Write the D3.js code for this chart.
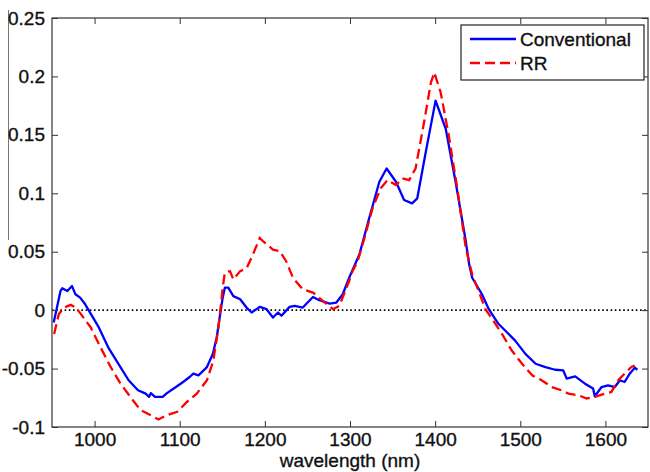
<!DOCTYPE html>
<html>
<head>
<meta charset="utf-8">
<script src="https://cdn.jsdelivr.net/npm/d3@7"></script>
<style>
  html, body { margin: 0; padding: 0; background: #fff; }
  svg text { font-family: "Liberation Sans", Arial, sans-serif; fill: #111; stroke: #111; stroke-width: 0.35px; }
</style>
</head>
<body>
<svg id="chart" width="650" height="472"></svg>
<script>
// ---- data ----
const convWl = [952, 960, 962, 968, 973.5, 977.5, 983, 989, 993, 1005, 1016, 1028, 1040, 1051, 1060, 1064, 1066, 1071, 1080, 1085, 1093, 1104, 1112, 1116, 1122, 1132, 1139, 1143.5, 1147.5, 1150.5, 1153, 1157, 1163, 1171, 1178.5, 1184.5, 1194, 1202, 1209.5, 1215.5, 1219.5, 1229, 1235, 1244.5, 1256.5, 1264, 1276, 1284, 1291.5, 1299, 1311, 1322.5, 1334.5, 1343, 1354, 1363.5, 1373, 1379, 1389, 1400.5, 1412.5, 1424, 1436, 1440, 1443.5, 1455, 1463, 1474.5, 1482.5, 1494, 1506, 1518, 1529.5, 1541, 1550.5, 1554.5, 1564.5, 1576, 1585.5, 1587.5, 1595.5, 1603, 1611, 1617, 1622.5, 1628.5, 1634.5, 1637.5];
const convVal = [-0.0105, 0.0164, 0.0187, 0.0164, 0.0206, 0.0136, 0.0107, 0.005, 0.0, -0.0148, -0.0318, -0.0459, -0.06, -0.0686, -0.0714, -0.0742, -0.071, -0.0742, -0.0742, -0.071, -0.067, -0.0615, -0.057, -0.0544, -0.0558, -0.0487, -0.0374, -0.0232, -0.0034, 0.0107, 0.0192, 0.0192, 0.012, 0.0093, 0.0022, -0.002, 0.0028, 0.0008, -0.0063, -0.002, -0.0048, 0.0028, 0.0037, 0.0022, 0.0113, 0.0085, 0.0056, 0.0065, 0.0136, 0.0277, 0.0476, 0.0787, 0.1099, 0.1212, 0.1099, 0.0943, 0.0914, 0.0957, 0.1353, 0.1793, 0.155, 0.1099, 0.0589, 0.039, 0.0277, 0.0136, 0.0008, -0.0119, -0.0176, -0.0261, -0.0374, -0.0459, -0.0487, -0.051, -0.0516, -0.0586, -0.0567, -0.0629, -0.0671, -0.0737, -0.0658, -0.0643, -0.0658, -0.06, -0.0615, -0.0544, -0.0493, -0.051];

const rrWl = [952.5, 958, 964, 972, 978, 984, 995.5, 1007, 1019, 1030.5, 1042, 1054, 1065.5, 1075, 1085, 1097, 1108.5, 1120, 1132, 1139.5, 1145.5, 1150.5, 1153, 1159, 1163, 1171, 1178.5, 1186, 1194, 1198, 1209.5, 1217.5, 1225, 1233, 1244.5, 1256.5, 1268, 1280, 1287.5, 1299, 1303, 1309, 1317, 1326.5, 1336, 1344, 1354, 1361.5, 1369.5, 1377, 1387, 1395, 1399, 1406.5, 1416, 1426, 1436, 1443.5, 1451, 1459, 1467, 1478.5, 1490, 1502, 1514, 1525, 1537, 1548.5, 1556.5, 1568, 1578, 1587.5, 1599.5, 1607, 1615, 1622.5, 1630.5, 1634.5];
const rrVal = [-0.0204, -0.0034, 0.0022, 0.0045, 0.0022, -0.0034, -0.0148, -0.0318, -0.0488, -0.0629, -0.0742, -0.0856, -0.0898, -0.0935, -0.0898, -0.087, -0.0785, -0.0714, -0.06, -0.0431, -0.0148, 0.0192, 0.032, 0.0334, 0.0263, 0.0334, 0.0357, 0.0476, 0.0617, 0.0589, 0.0518, 0.0504, 0.0419, 0.0277, 0.0178, 0.015, 0.0079, 0.0008, 0.0037, 0.0249, 0.0334, 0.0419, 0.0617, 0.0872, 0.1042, 0.1113, 0.107, 0.1127, 0.1113, 0.1212, 0.1608, 0.1948, 0.2033, 0.1863, 0.1495, 0.1042, 0.0532, 0.0306, 0.0164, 0.0008, -0.0076, -0.0204, -0.0346, -0.0459, -0.0558, -0.06, -0.0658, -0.0686, -0.0714, -0.0728, -0.0756, -0.0742, -0.0714, -0.07, -0.06, -0.0544, -0.0487, -0.0473];

const xTicks = [1000, 1100, 1200, 1300, 1400, 1500, 1600];
const yTicks = [-0.1, -0.05, 0, 0.05, 0.1, 0.15, 0.2, 0.25];
const yTickLabels = ["-0.1", "-0.05", "0", "0.05", "0.1", "0.15", "0.2", "0.25"];
const seriesNames = ["Conventional", "RR"];
const xLabel = "wavelength (nm)";

// ---- layout ----
const L = 52, R = 648, T = 18, B = 427;
const svg = d3.select("#chart");
const x = d3.scaleLinear().domain([950, 1650]).range([L, R]);
const y = d3.scaleLinear().domain([-0.1, 0.25]).range([B, T]);
const axisColor = "#333";
const fs = 19;
const tickLen = 6;

// stray vertical line at far left
svg.append("line").attr("x1", 8.5).attr("x2", 8.5).attr("y1", 10).attr("y2", 240)
  .attr("stroke", "#777").attr("stroke-width", 1);

// zero reference line (dotted)
svg.append("line")
  .attr("x1", x(950)).attr("x2", x(1650))
  .attr("y1", y(0)).attr("y2", y(0))
  .attr("stroke", "#000").attr("stroke-width", 1.6)
  .attr("stroke-dasharray", "1.6,2.6");

// series
const line = d3.line().x(d => x(d[0])).y(d => y(d[1]));
const convData = convWl.map((w, i) => [w, convVal[i]]);
const rrData = rrWl.map((w, i) => [w, rrVal[i]]);

svg.append("path").datum(convData).attr("d", line)
  .attr("fill", "none").attr("stroke", "#0000ff").attr("stroke-width", 2.3)
  .attr("stroke-linejoin", "round");
svg.append("path").datum(rrData).attr("d", line)
  .attr("fill", "none").attr("stroke", "#ff0000").attr("stroke-width", 2.3)
  .attr("stroke-dasharray", "10,5");

// axes (MATLAB style, ticks inward on all sides)
const gBottom = svg.append("g").attr("transform", `translate(0,${B})`)
  .call(d3.axisBottom(x).tickValues(xTicks).tickSize(-tickLen).tickPadding(6).tickFormat(d3.format("d")));
const gTop = svg.append("g").attr("transform", `translate(0,${T})`)
  .call(d3.axisTop(x).tickValues(xTicks).tickSize(-tickLen).tickFormat(""));
const gLeft = svg.append("g").attr("transform", `translate(${L},0)`)
  .call(d3.axisLeft(y).tickValues(yTicks).tickSize(-tickLen).tickPadding(7)
    .tickFormat((d, i) => yTickLabels[i]));
const gRight = svg.append("g").attr("transform", `translate(${R},0)`)
  .call(d3.axisRight(y).tickValues(yTicks).tickSize(-tickLen).tickFormat(""));

[gBottom, gTop, gLeft, gRight].forEach(g => {
  g.select(".domain").remove();
  g.selectAll(".tick line").attr("stroke", axisColor).attr("stroke-width", 1);
  g.selectAll("text").attr("font-size", fs).attr("fill", "#111")
    .attr("font-family", "'Liberation Sans', Arial, sans-serif");
});
// box
svg.append("rect").attr("x", L).attr("y", T).attr("width", R - L).attr("height", B - T)
  .attr("fill", "none").attr("stroke", axisColor).attr("stroke-width", 1.2);

// x label
svg.append("text").attr("x", (L + R) / 2).attr("y", 467).attr("text-anchor", "middle")
  .attr("font-size", fs).text(xLabel);

// legend
const lg = svg.append("g");
lg.append("rect").attr("x", 461).attr("y", 25).attr("width", 183).attr("height", 55)
  .attr("fill", "#fff").attr("stroke", "#222").attr("stroke-width", 1.2);
const legendStyles = [
  { color: "#0000ff", dash: null },
  { color: "#ff0000", dash: "10,5" }
];
seriesNames.forEach((name, i) => {
  const cy = 39 + i * 24;
  const l = lg.append("line").attr("x1", 470).attr("x2", 516).attr("y1", cy).attr("y2", cy)
    .attr("stroke", legendStyles[i].color).attr("stroke-width", 2.3);
  if (legendStyles[i].dash) l.attr("stroke-dasharray", legendStyles[i].dash);
  lg.append("text").attr("x", 520).attr("y", cy + 7).attr("font-size", fs).text(name);
});
</script>
</body>
</html>
